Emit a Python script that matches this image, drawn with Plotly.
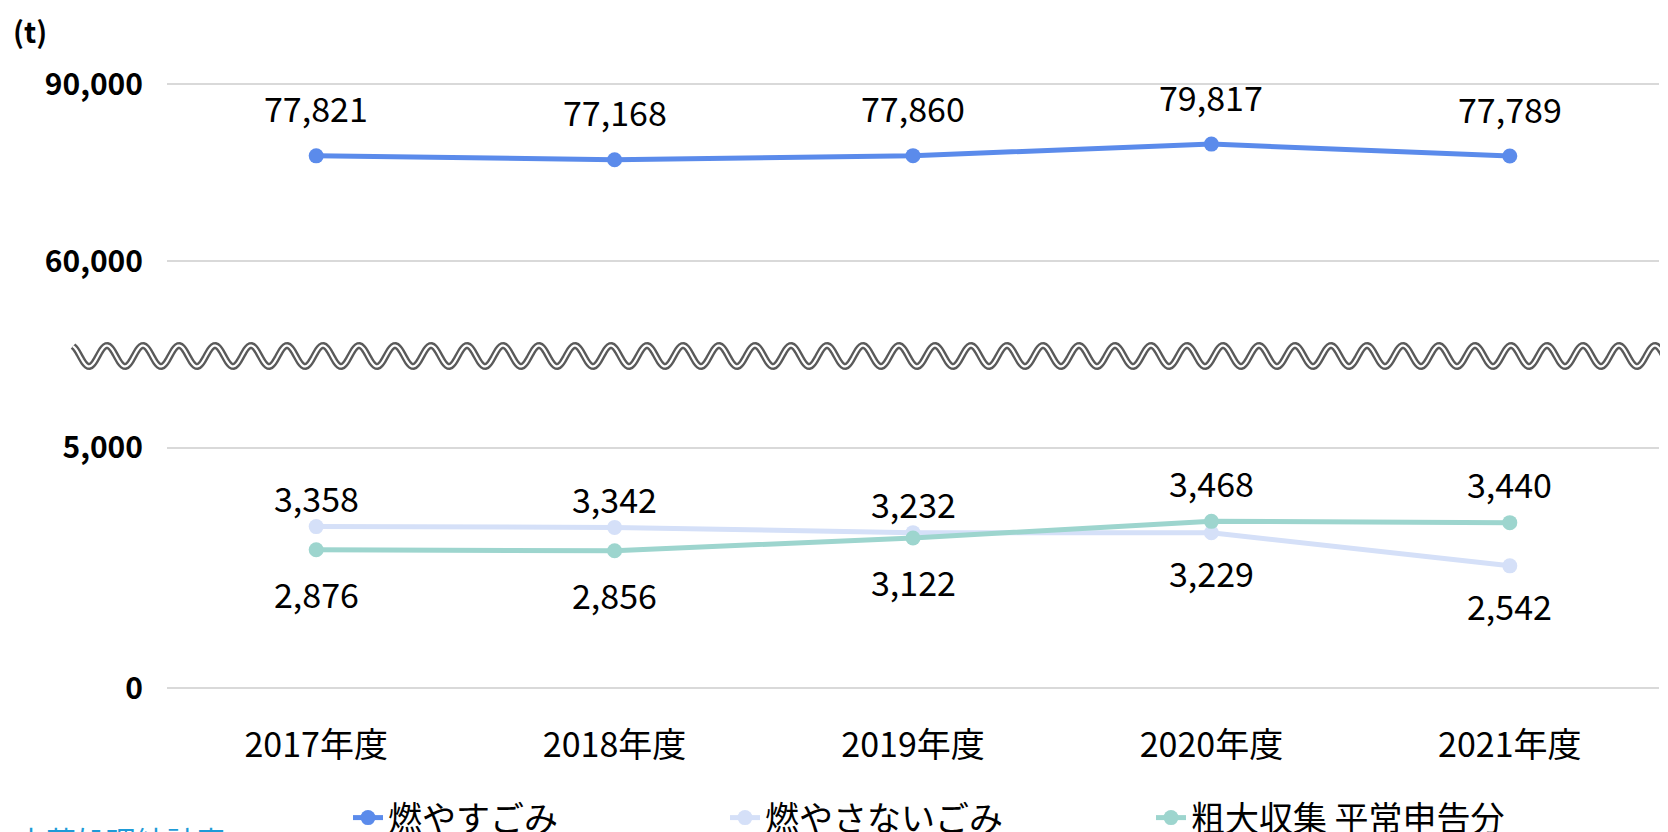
import numpy as np
import plotly.graph_objects as go

# ---- data ----
years = ["2017年度", "2018年度", "2019年度", "2020年度", "2021年度"]
burnable = [77821, 77168, 77860, 79817, 77789]          # 燃やすごみ
non_burnable = [3358, 3342, 3232, 3229, 2542]           # 燃やさないごみ
bulky = [2876, 2856, 3122, 3468, 3440]                  # 粗大収集 平常申告分
series_names = ["燃やすごみ", "燃やさないごみ", "粗大収集 平常申告分"]
top_ticks = [60000, 90000]
bottom_ticks = [0, 5000]
unit_label = "(t)"
source_note = "本草処理統計表"

# ---- styling ----
FONT = "Noto Sans CJK JP"
FS = 34
C_BLUE = "#5B8BEB"
C_LIGHT = "#D5E0F8"
C_TEAL = "#9DD5CE"
GRID = "#D9D9D9"

# page body has an 8px default margin: work in screen pixels, convert to figure pixels
OFF = 8
SW, SH = 1668, 832
W, H = SW - OFF, SH - OFF
PLOT_L, PLOT_R, PLOT_T, PLOT_B = 167, 1659, 82, 690      # screen pixels
ML, MR, MT, MB = PLOT_L - OFF, W - (PLOT_R - OFF), PLOT_T - OFF, H - (PLOT_B - OFF)
PW, PH = W - ML - MR, H - MT - MB


def px2paper(px, py):
    return (px - PLOT_L) / PW, (PLOT_B - py) / PH


# pixel layout of the two panels (tick pixel positions in the reference)
TOP_90K_PX, TOP_60K_PX = 84, 261
BOT_5K_PX, BOT_0_PX = 447.7, 688
top_scale = (TOP_60K_PX - TOP_90K_PX) / (top_ticks[1] - top_ticks[0])
bot_scale = (BOT_0_PX - BOT_5K_PX) / (bottom_ticks[1] - bottom_ticks[0])
top_bottom_px, bot_top_px = 290, 400

top_hi = top_ticks[1] + (TOP_90K_PX - PLOT_T) / top_scale
top_lo = top_ticks[1] - (top_bottom_px - TOP_90K_PX) / top_scale
bot_lo = -(PLOT_B - BOT_0_PX) / bot_scale
bot_hi = (BOT_0_PX - bot_top_px) / bot_scale
top_dom0 = px2paper(0, top_bottom_px)[1]
bot_dom1 = px2paper(0, bot_top_px)[1]

fig = go.Figure()

fig.add_trace(go.Scatter(
    x=years, y=burnable, yaxis="y2", name=series_names[0], mode="lines+markers",
    line=dict(color=C_BLUE, width=5), marker=dict(size=15, color=C_BLUE),
    legend="legend", hoverinfo="skip"))
fig.add_trace(go.Scatter(
    x=years, y=non_burnable, yaxis="y", name=series_names[1], mode="lines+markers",
    line=dict(color=C_LIGHT, width=5), marker=dict(size=15, color=C_LIGHT),
    legend="legend2", hoverinfo="skip"))
fig.add_trace(go.Scatter(
    x=years, y=bulky, yaxis="y", name=series_names[2], mode="lines+markers",
    line=dict(color=C_TEAL, width=5), marker=dict(size=15, color=C_TEAL),
    legend="legend3", hoverinfo="skip"))

annotations = []
lab_font = dict(family=FONT, size=FS, color="#000000")
for xv, v in zip(years, burnable):
    annotations.append(dict(x=xv, y=v, xref="x", yref="y2", text=f"{v:,}",
                            showarrow=False, yanchor="middle", yshift=48, font=lab_font))
for xv, a, b in zip(years, non_burnable, bulky):
    a_above = a >= b
    annotations.append(dict(x=xv, y=a, xref="x", yref="y", text=f"{a:,}",
                            showarrow=False, yanchor="middle",
                            yshift=29 if a_above else -40, font=lab_font))
    annotations.append(dict(x=xv, y=b, xref="x", yref="y", text=f"{b:,}",
                            showarrow=False, yanchor="middle",
                            yshift=-44 if a_above else 39, font=lab_font))

ux, uy = px2paper(11, 30)
annotations.append(dict(x=ux, y=uy, xref="paper", yref="paper", text=f"<b>{unit_label}</b>",
                        showarrow=False, xanchor="left", yanchor="middle",
                        font=dict(family=FONT, size=29, color="#000000")))
sx, sy = px2paper(14, 816)
annotations.append(dict(x=sx, y=sy, xref="paper", yref="paper", text=source_note,
                        showarrow=False, xanchor="left", yanchor="top",
                        font=dict(family=FONT, size=30, color="#1E9BD7")))

# ---- wave (axis break decoration) ----
pxs = np.arange(73, SW + 2, 1.5)
pys = 356 - 10.5 * np.sin(2 * np.pi * (pxs - 98) / 36)
pts = [px2paper(a, b) for a, b in zip(pxs, pys)]
path = "M " + " L ".join(f"{a:.5f},{b:.5f}" for a, b in pts)
shapes = [
    dict(type="path", path=path, xref="paper", yref="paper",
         line=dict(color="#5A5A5A", width=7), layer="above"),
    dict(type="path", path=path, xref="paper", yref="paper",
         line=dict(color="#FFFFFF", width=2.2), layer="above"),
]

tick_font = dict(family=FONT, size=30, color="#000000", weight="bold")

legend_common = dict(orientation="h", yanchor="middle", xanchor="left",
                     font=dict(family=FONT, size=FS, color="#000000"),
                     bgcolor="rgba(0,0,0,0)", itemclick=False, itemdoubleclick=False)
_, ly = px2paper(0, 818)

fig.update_layout(
    width=W, height=H,
    margin=dict(l=ML, r=MR, t=MT, b=MB, autoexpand=False),
    paper_bgcolor="white", plot_bgcolor="white",
    font=dict(family=FONT, size=FS, color="#000000"),
    xaxis=dict(anchor="y", range=[-0.5, 4.5], showgrid=False, showline=False,
               zeroline=False, ticks="", ticklabelstandoff=32, automargin=False,
               tickfont=dict(family=FONT, size=FS, color="#000000")),
    yaxis=dict(domain=[0, bot_dom1], range=[bot_lo, bot_hi], anchor="x",
               tickvals=bottom_ticks, tickformat=",", showgrid=True, automargin=False,
               gridcolor=GRID, gridwidth=2, zeroline=False, showline=False,
               ticks="", ticklabelstandoff=23, tickfont=tick_font),
    yaxis2=dict(domain=[top_dom0, 1], range=[top_lo, top_hi], anchor="x",
                tickvals=top_ticks, tickformat=",", showgrid=True, automargin=False,
                gridcolor=GRID, gridwidth=2, zeroline=False, showline=False,
                ticks="", ticklabelstandoff=23, tickfont=tick_font),
    legend=dict(x=px2paper(348, 0)[0], y=ly, **legend_common),
    legend2=dict(x=px2paper(725, 0)[0], y=ly, **legend_common),
    legend3=dict(x=px2paper(1151, 0)[0], y=ly, **legend_common),
    annotations=annotations,
    shapes=shapes,
    showlegend=True,
)

fig.write_html("out.html")
